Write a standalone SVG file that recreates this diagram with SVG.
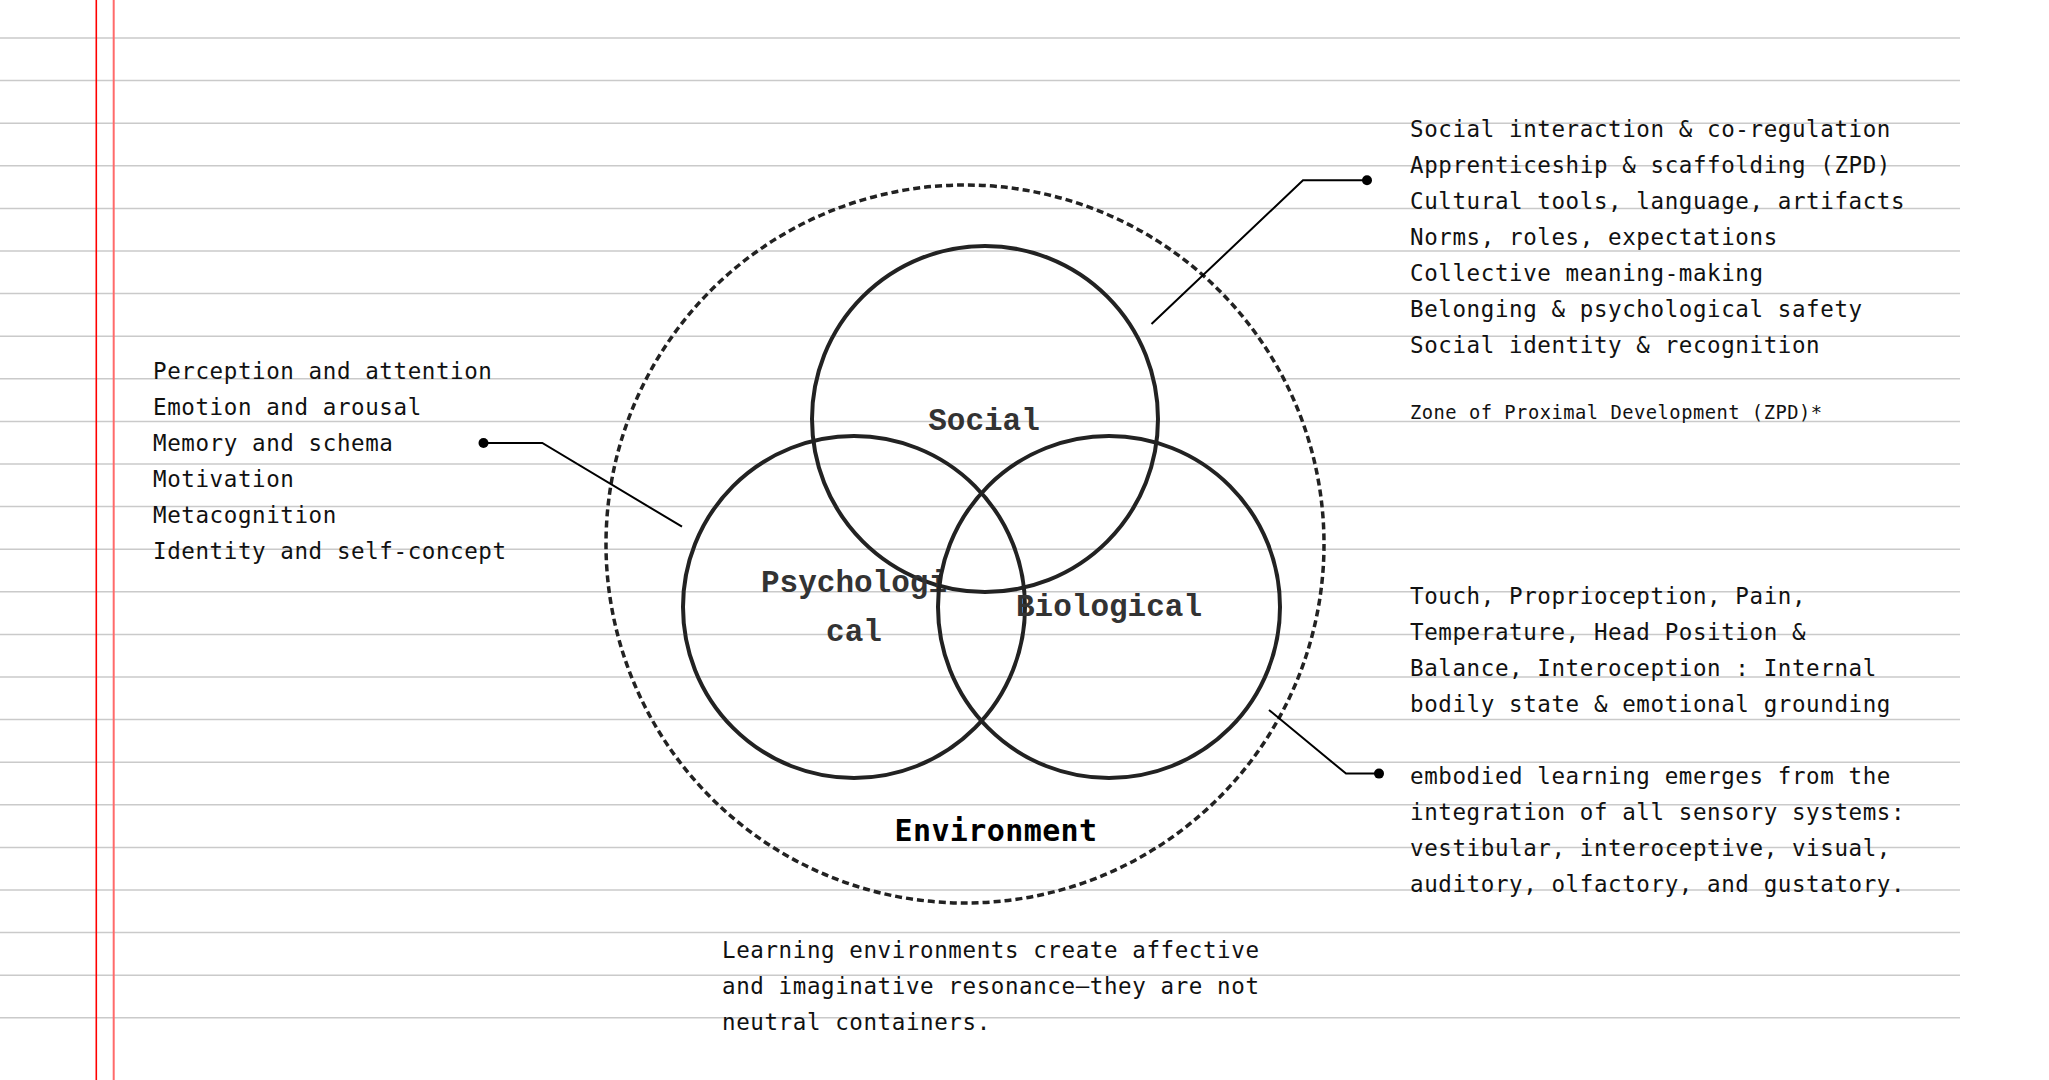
<svg xmlns="http://www.w3.org/2000/svg" width="2049" height="1080" viewBox="0 0 2049 1080">
<style>
.rule{stroke:#cacaca;stroke-width:1.5}
.venn{fill:none;stroke:#222;stroke-width:4}
.env{fill:none;stroke:#222;stroke-width:3.5;stroke-dasharray:7 4}
.lbl{font-family:"Liberation Mono","DejaVu Sans Mono",monospace;font-weight:bold;font-size:31px;fill:#333;text-anchor:middle}
.envlbl{font-family:"DejaVu Sans Mono","Liberation Mono",monospace;font-weight:bold;font-size:30px;letter-spacing:0.4px;fill:#000;text-anchor:middle}
.body{font-family:"DejaVu Sans Mono","Liberation Mono",monospace;font-size:22.5px;letter-spacing:0.6px;fill:#111}
.small{font-family:"DejaVu Sans Mono","Liberation Mono",monospace;font-size:18.75px;letter-spacing:0.5px;fill:#111}
.conn{fill:none;stroke:#000;stroke-width:2}
.dot{fill:#000}
</style>
<rect width="2049" height="1080" fill="#fff"/>
<g id="paper">
<line class="rule" x1="0" y1="38" x2="1960" y2="38"/>
<line class="rule" x1="0" y1="80.6" x2="1960" y2="80.6"/>
<line class="rule" x1="0" y1="123.2" x2="1960" y2="123.2"/>
<line class="rule" x1="0" y1="165.8" x2="1960" y2="165.8"/>
<line class="rule" x1="0" y1="208.4" x2="1960" y2="208.4"/>
<line class="rule" x1="0" y1="251" x2="1960" y2="251"/>
<line class="rule" x1="0" y1="293.6" x2="1960" y2="293.6"/>
<line class="rule" x1="0" y1="336.2" x2="1960" y2="336.2"/>
<line class="rule" x1="0" y1="378.8" x2="1960" y2="378.8"/>
<line class="rule" x1="0" y1="421.4" x2="1960" y2="421.4"/>
<line class="rule" x1="0" y1="464" x2="1960" y2="464"/>
<line class="rule" x1="0" y1="506.6" x2="1960" y2="506.6"/>
<line class="rule" x1="0" y1="549.2" x2="1960" y2="549.2"/>
<line class="rule" x1="0" y1="591.8" x2="1960" y2="591.8"/>
<line class="rule" x1="0" y1="634.4" x2="1960" y2="634.4"/>
<line class="rule" x1="0" y1="677" x2="1960" y2="677"/>
<line class="rule" x1="0" y1="719.6" x2="1960" y2="719.6"/>
<line class="rule" x1="0" y1="762.2" x2="1960" y2="762.2"/>
<line class="rule" x1="0" y1="804.8" x2="1960" y2="804.8"/>
<line class="rule" x1="0" y1="847.4" x2="1960" y2="847.4"/>
<line class="rule" x1="0" y1="890" x2="1960" y2="890"/>
<line class="rule" x1="0" y1="932.6" x2="1960" y2="932.6"/>
<line class="rule" x1="0" y1="975.2" x2="1960" y2="975.2"/>
<line class="rule" x1="0" y1="1017.8" x2="1960" y2="1017.8"/>
<line x1="96.3" y1="0" x2="96.3" y2="1080" stroke="#ff0000" stroke-width="1.6"/>
<line x1="113.7" y1="0" x2="113.7" y2="1080" stroke="#ff6a6a" stroke-width="2"/>
</g>
<g id="environment">
<circle class="env" cx="965" cy="544" r="359"/>
<text class="envlbl" x="996" y="841">Environment</text>
</g>
<g id="social">
<circle class="venn" cx="985" cy="419" r="173"/>
<text class="lbl" x="984" y="430">Social</text>
</g>
<g id="psychological">
<circle class="venn" cx="854" cy="607" r="171"/>
<text class="lbl" x="854" y="592">Psychologi</text>
<text class="lbl" x="854" y="641">cal</text>
</g>
<g id="biological">
<circle class="venn" cx="1109" cy="607" r="171"/>
<text class="lbl" x="1109" y="616">Biological</text>
</g>
<g id="connectors">
<polyline class="conn" points="1367,180.3 1303,180.3 1151.5,324"/>
<circle class="dot" cx="1367" cy="180.3" r="5"/>
<polyline class="conn" points="483.5,443 542.3,443 682,526.7"/>
<circle class="dot" cx="483.5" cy="443" r="5"/>
<polyline class="conn" points="1379,773.6 1346,773.6 1269,710"/>
<circle class="dot" cx="1379" cy="773.6" r="5"/>
</g>
<g id="social-notes">
<text class="body" x="1410" y="137">Social interaction &amp; co-regulation</text>
<text class="body" x="1410" y="173">Apprenticeship &amp; scaffolding (ZPD)</text>
<text class="body" x="1410" y="209">Cultural tools, language, artifacts</text>
<text class="body" x="1410" y="245">Norms, roles, expectations</text>
<text class="body" x="1410" y="281">Collective meaning-making</text>
<text class="body" x="1410" y="317">Belonging &amp; psychological safety</text>
<text class="body" x="1410" y="353">Social identity &amp; recognition</text>
<text class="small" x="1410" y="419">Zone of Proximal Development (ZPD)*</text>
</g>
<g id="psychological-notes">
<text class="body" x="153" y="379">Perception and attention</text>
<text class="body" x="153" y="415">Emotion and arousal</text>
<text class="body" x="153" y="451">Memory and schema</text>
<text class="body" x="153" y="487">Motivation</text>
<text class="body" x="153" y="523">Metacognition</text>
<text class="body" x="153" y="559">Identity and self-concept</text>
</g>
<g id="biological-notes">
<text class="body" x="1410" y="604">Touch, Proprioception, Pain,</text>
<text class="body" x="1410" y="640">Temperature, Head Position &amp;</text>
<text class="body" x="1410" y="676">Balance, Interoception : Internal</text>
<text class="body" x="1410" y="712">bodily state &amp; emotional grounding</text>
<text class="body" x="1410" y="784">embodied learning emerges from the</text>
<text class="body" x="1410" y="820">integration of all sensory systems:</text>
<text class="body" x="1410" y="856">vestibular, interoceptive, visual,</text>
<text class="body" x="1410" y="892">auditory, olfactory, and gustatory.</text>
</g>
<g id="environment-notes">
<text class="body" x="722" y="958">Learning environments create affective</text>
<text class="body" x="722" y="994">and imaginative resonance—they are not</text>
<text class="body" x="722" y="1030">neutral containers.</text>
</g>
</svg>
